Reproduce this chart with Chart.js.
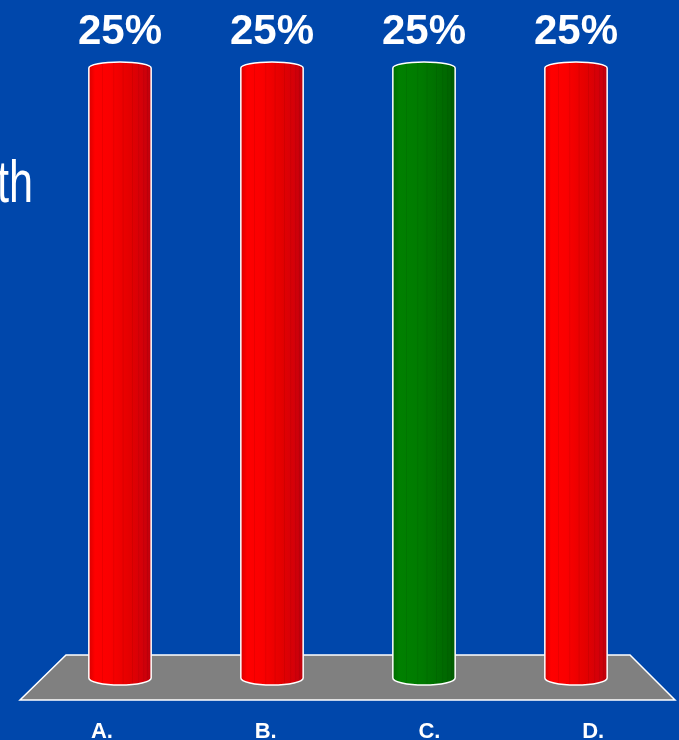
<!DOCTYPE html>
<html>
<head>
<meta charset="utf-8">
<script src="https://cdn.jsdelivr.net/npm/chart.js@4.4.0/dist/chart.umd.min.js"></script>
<style>
  html, body { margin: 0; padding: 0; background: #0047ab; overflow: hidden; }
  #wrap { position: relative; width: 679px; height: 740px; }
  #title {
    position: absolute; left: -3px; top: 147px;
    font: 60px "Liberation Sans", Arial, sans-serif; color: #fff;
    transform: scaleX(0.72); transform-origin: left top; white-space: nowrap;
  }
  canvas { position: absolute; left: 0; top: 0; }
</style>
</head>
<body>
<div id="wrap">
  <div id="title">th</div>
  <canvas id="poll" width="679" height="740"></canvas>
</div>
<script>
// answer options and their share of votes
const categories = ["A.", "B.", "C.", "D."];
const shares = [25, 25, 25, 25];
const valueLabels = ["25%", "25%", "25%", "25%"];
const barColors = ["red", "red", "green", "red"];

const ramps = {
  red: [[0, "#d80000"], [0.1, "#ff0000"], [0.35, "#fa0000"], [0.65, "#e40000"], [0.88, "#d2000a"], [1, "#be000c"]],
  green: [[0, "#006c00"], [0.1, "#008000"], [0.4, "#007c00"], [0.7, "#007000"], [0.9, "#006600"], [1, "#005a00"]]
};

// grey floor under the bars, slanted a bit for depth
const floorPlugin = {
  id: "floor",
  beforeDatasetsDraw(chart) {
    const { ctx, chartArea: a } = chart;
    const backY = a.bottom - 23, frontY = a.bottom + 22;
    ctx.save();
    ctx.beginPath();
    ctx.moveTo(a.left + 22, backY);
    ctx.lineTo(a.right - 22, backY);
    ctx.lineTo(a.right + 23, frontY);
    ctx.lineTo(a.left - 24, frontY);
    ctx.closePath();
    ctx.fillStyle = "#808080";
    ctx.fill();
    ctx.strokeStyle = "#ffffff";
    ctx.lineWidth = 1.5;
    ctx.stroke();

    // option letters along the front edge of the floor
    const fl = a.left - 24, fw = (a.right + 23) - fl;
    ctx.fillStyle = "#ffffff";
    ctx.font = "bold 22px 'Liberation Sans', Arial, sans-serif";
    ctx.textAlign = "center";
    ctx.textBaseline = "alphabetic";
    categories.forEach((c, i) => {
      ctx.fillText(c, fl + (i + 0.5) * fw / categories.length, frontY + 38);
    });
    ctx.restore();
  }
};

function cylinderPath(ctx, x, y, base, rx) {
  const topRy = 6, botRy = 7;
  ctx.beginPath();
  ctx.moveTo(x - rx, y + topRy);
  ctx.ellipse(x, y + topRy, rx, topRy, 0, Math.PI, 2 * Math.PI);
  ctx.lineTo(x + rx, base);
  ctx.ellipse(x, base, rx, botRy, 0, 0, Math.PI);
  ctx.closePath();
}

// bars drawn as cylinders from the bar elements' geometry
const cylinderPlugin = {
  id: "cylinders",
  beforeDatasetDraw(chart, args) {
    const { ctx } = chart;
    args.meta.data.forEach((el, i) => {
      const { x, y, base, width } = el.getProps(["x", "y", "base", "width"], true);
      const rx = width / 2, left = x - rx, right = x + rx;

      ctx.save();
      cylinderPath(ctx, x, y, base, rx);
      const g = ctx.createLinearGradient(left, 0, right, 0);
      ramps[barColors[i]].forEach(([p, c]) => g.addColorStop(p, c));
      ctx.fillStyle = g;
      ctx.fill();

      // faint facet lines of the cylinder
      ctx.save();
      ctx.clip();
      ctx.strokeStyle = "rgba(0,0,0,0.07)";
      ctx.lineWidth = 1;
      [0.22, 0.4, 0.55, 0.7, 0.8, 0.88, 0.94].forEach(f => {
        ctx.beginPath();
        ctx.moveTo(left + f * width, y);
        ctx.lineTo(left + f * width, base + 8);
        ctx.stroke();
      });
      ctx.restore();

      cylinderPath(ctx, x, y, base, rx);
      ctx.strokeStyle = "#ffffff";
      ctx.lineWidth = 1.5;
      ctx.stroke();

      // value on top
      ctx.fillStyle = "#ffffff";
      ctx.font = "bold 42px 'Liberation Sans', Arial, sans-serif";
      ctx.textAlign = "center";
      ctx.textBaseline = "alphabetic";
      ctx.fillText(valueLabels[i], x, 44);
      ctx.restore();
    });
    return false;
  }
};

new Chart(document.getElementById("poll").getContext("2d"), {
  type: "bar",
  data: {
    labels: categories,
    datasets: [{
      data: shares,
      backgroundColor: barColors,
      barPercentage: 0.41,
      categoryPercentage: 1
    }]
  },
  options: {
    responsive: false,
    animation: false,
    layout: { padding: { left: 44, right: 27, top: 62, bottom: 62 } },
    plugins: { legend: { display: false }, tooltip: { enabled: false } },
    scales: {
      x: { display: false },
      y: { display: false, min: 0, max: 25 }
    }
  },
  plugins: [floorPlugin, cylinderPlugin]
});
</script>
</body>
</html>
